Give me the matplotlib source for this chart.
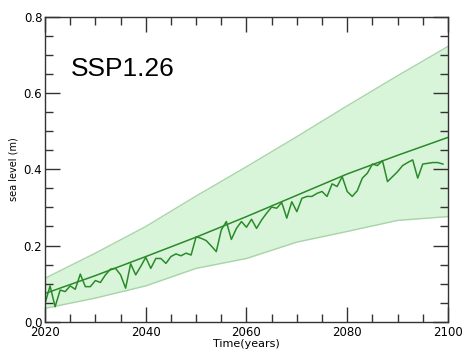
import matplotlib
matplotlib.use("Agg")
import matplotlib.pyplot as plt
from matplotlib.ticker import MultipleLocator, FuncFormatter
import numpy as np

# annual sea level series
years = np.arange(2020, 2100)
sea_level = [0.048, 0.094, 0.039, 0.083, 0.079, 0.094, 0.085, 0.125, 0.092, 0.092,
             0.108, 0.103, 0.123, 0.138, 0.140, 0.123, 0.088, 0.152, 0.123, 0.145,
             0.169, 0.140, 0.166, 0.166, 0.153, 0.171, 0.178, 0.173, 0.180, 0.175,
             0.223, 0.219, 0.213, 0.199, 0.184, 0.241, 0.263, 0.216, 0.245, 0.263,
             0.248, 0.269, 0.245, 0.267, 0.285, 0.301, 0.298, 0.313, 0.272, 0.315,
             0.289, 0.324, 0.329, 0.329, 0.337, 0.342, 0.329, 0.362, 0.355, 0.381,
             0.342, 0.329, 0.344, 0.377, 0.390, 0.414, 0.410, 0.423, 0.368, 0.381,
             0.394, 0.410, 0.418, 0.425, 0.377, 0.414, 0.416, 0.418, 0.418, 0.414]

# projection (median + range) every 10 years
proj_years = [2020, 2030, 2040, 2050, 2060, 2070, 2080, 2090, 2100]
median = [0.074, 0.121, 0.171, 0.222, 0.276, 0.332, 0.388, 0.437, 0.484]
upper = [0.114, 0.180, 0.250, 0.330, 0.407, 0.486, 0.567, 0.646, 0.723]
lower = [0.035, 0.062, 0.094, 0.140, 0.166, 0.209, 0.237, 0.266, 0.276]

fig = plt.figure(figsize=(4.74, 3.57), dpi=100)
ax = fig.add_axes([0.095, 0.099, 0.85, 0.853])

ax.fill_between(proj_years, lower, upper, color='#d9f5d9', lw=0)
ax.plot(proj_years, upper, color='#a9d4a9', lw=1)
ax.plot(proj_years, lower, color='#a9d4a9', lw=1)
ax.plot(proj_years, median, color='#2a8a2a', lw=1.1)
ax.plot(years, sea_level, color='#2a8a2a', lw=1.1)

ax.set_xlim(2020, 2100)
ax.set_ylim(0, 0.8)
ax.xaxis.set_major_locator(MultipleLocator(20))
ax.xaxis.set_minor_locator(MultipleLocator(5))
ax.yaxis.set_major_locator(MultipleLocator(0.2))
ax.yaxis.set_minor_locator(MultipleLocator(0.05))
ax.tick_params(which='both', direction='in', top=True, right=True, color='#333333',
               labelsize=8.5)
ax.tick_params(axis='x', pad=3)
ax.tick_params(axis='y', pad=2)
ax.tick_params(which='major', length=10.5, width=1)
ax.tick_params(which='minor', length=6, width=1)
ax.xaxis.set_major_formatter(FuncFormatter(lambda v, p: f"{int(v)}"))
ax.yaxis.set_major_formatter(FuncFormatter(lambda v, p: f"{v:.1f}"))
for s in ax.spines.values():
    s.set_color('#333333')
    s.set_linewidth(1)

ax.set_xlabel('Time(years)', fontsize=8, labelpad=0)
ax.set_ylabel('sea level (m)', fontsize=7, labelpad=4)
ax.text(0.063, 0.83, 'SSP1.26', transform=ax.transAxes, fontsize=19,
        family='Liberation Sans', va='center', ha='left')

fig.savefig('out.png', dpi=100)
